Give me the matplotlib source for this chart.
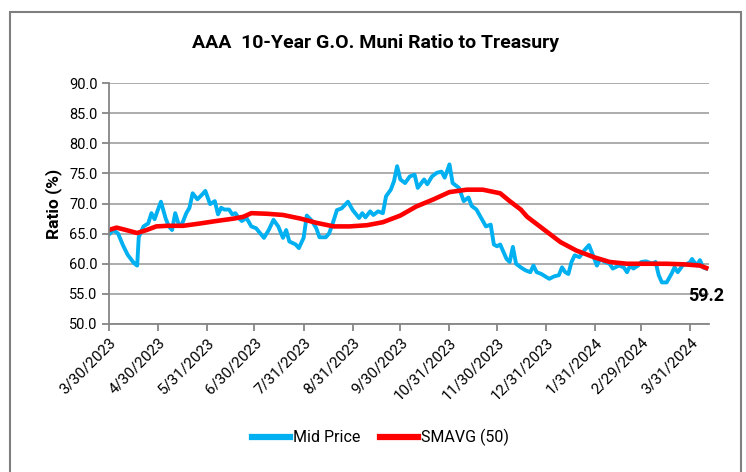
# -*- coding: utf-8 -*-
"""AAA 10-Year G.O. Muni Ratio to Treasury."""

import pandas as pd
import matplotlib.pyplot as plt
from matplotlib.patches import Rectangle

plt.rcParams['font.family'] = ['Roboto', 'DejaVu Sans']

start = pd.Timestamp('2023-03-30')

# Mid Price (days since 3/30/2023, ratio %)
mid_days = [0, 3, 6, 9, 12, 16, 18, 19, 22, 25, 27, 29, 31, 33, 36, 38, 40, 42, 44, 46,
            49, 51, 53, 56, 59, 61, 64, 67, 69, 71, 73, 76, 78, 80, 82, 84, 87, 90, 93, 98,
            101, 104, 107, 110, 112, 114, 118, 120, 123, 125, 128, 131, 133, 137, 139, 141,
            144, 147, 151, 154, 158, 160, 162, 165, 167, 170, 173, 175, 178, 180, 182, 184,
            187, 190, 193, 195, 199, 201, 204, 207, 210, 212, 215, 217, 221, 224, 227, 229,
            232, 235, 238, 241, 243, 245, 247, 249, 251, 253, 255, 257, 260, 263, 266, 268,
            270, 273, 276, 278, 281, 284, 286, 288, 290, 292, 294, 297, 300, 303, 306, 308,
            310, 313, 316, 318, 322, 325, 327, 329, 331, 334, 336, 339, 343, 345, 347, 349,
            352, 355, 357, 359, 362, 365, 367, 368, 371, 373, 375, 377]
mid_price = [64.8, 65.6, 65.0, 63.1, 61.5, 60.1, 59.7, 64.4, 66.2, 66.7, 68.4, 67.4, 68.9,
             70.3, 67.5, 66.2, 65.6, 68.4, 66.7, 66.4, 68.4, 69.3, 71.7, 70.7, 71.5, 72.1,
             69.9, 70.4, 68.2, 69.3, 69.0, 69.0, 68.2, 68.4, 67.6, 67.1, 67.6, 66.2, 65.9,
             64.3, 65.6, 67.3, 66.2, 64.3, 65.6, 63.7, 63.2, 62.6, 64.3, 68.0, 67.2, 65.9,
             64.4, 64.4, 65.0, 66.4, 68.9, 69.2, 70.3, 68.9, 67.6, 68.4, 67.7, 68.7, 68.1,
             68.7, 68.4, 71.2, 72.3, 73.7, 76.2, 74.0, 73.4, 74.5, 74.8, 72.6, 74.0, 73.2,
             74.5, 75.1, 75.3, 74.3, 76.5, 73.4, 72.6, 70.4, 71.0, 69.6, 69.0, 67.6, 66.2,
             66.5, 63.2, 62.9, 63.2, 62.0, 60.8, 60.3, 62.8, 60.0, 59.4, 58.9, 58.6, 59.7,
             58.6, 58.3, 57.8, 57.5, 57.9, 58.1, 59.4, 58.6, 58.3, 60.3, 61.4, 61.1, 62.2,
             63.1, 61.1, 59.7, 60.8, 60.3, 60.0, 59.2, 59.7, 59.4, 58.6, 59.7, 59.2, 59.7,
             60.3, 60.4, 60.0, 60.3, 58.1, 56.9, 56.9, 58.3, 59.4, 58.6, 59.7, 60.0, 60.3,
             60.8, 59.7, 60.6, 59.4, 59.2]

# SMAVG (50)
sma_days = [0, 5, 11, 18, 24, 30, 37, 47, 58, 68, 79, 85, 90, 100, 110, 121, 131, 142, 152,
            163, 173, 184, 194, 205, 215, 226, 236, 247, 253, 260, 264, 274, 285, 295, 306,
            316, 327, 342, 352, 363, 373, 377]
sma = [65.6, 66.0, 65.6, 65.1, 65.6, 66.2, 66.3, 66.3, 66.7, 67.1, 67.5, 67.8, 68.4, 68.3,
       68.1, 67.5, 66.8, 66.2, 66.2, 66.4, 66.9, 68.0, 69.5, 70.7, 71.9, 72.3, 72.3, 71.7,
       70.4, 69.0, 67.8, 65.8, 63.6, 62.2, 61.1, 60.3, 60.0, 60.0, 60.0, 59.9, 59.7, 59.3]

tick_dates = ['2023-03-30', '2023-04-30', '2023-05-31', '2023-06-30', '2023-07-31',
              '2023-08-31', '2023-09-30', '2023-10-31', '2023-11-30', '2023-12-31',
              '2024-01-31', '2024-02-29', '2024-03-31']
tick_labels = ['3/30/2023', '4/30/2023', '5/31/2023', '6/30/2023', '7/31/2023',
               '8/31/2023', '9/30/2023', '10/31/2023', '11/30/2023', '12/31/2023',
               '1/31/2024', '2/29/2024', '3/31/2024']

mid_x = start + pd.to_timedelta(mid_days, unit='D')
sma_x = start + pd.to_timedelta(sma_days, unit='D')

fig = plt.figure(figsize=(7.46, 4.72), dpi=100)
ax = fig.add_axes([0.1456, 0.3136, 0.8054, 0.5104])

ax.plot(mid_x, mid_price, color='#00B0F0', lw=2.8, label='Mid Price',
        solid_joinstyle='round')
ax.plot(sma_x, sma, color='#FF0000', lw=3.3, label='SMAVG (50)',
        solid_joinstyle='round')

ax.set_ylim(50, 90)
ax.set_yticks(range(50, 91, 5))
ax.set_yticklabels([f'{v:.1f}' for v in range(50, 91, 5)], fontsize=10.5)
ax.set_xlim(start, start + pd.Timedelta(days=379))
ax.set_xticks(pd.to_datetime(tick_dates))
ax.set_xticklabels(tick_labels, rotation=45, ha='right', rotation_mode='anchor',
                   fontsize=11)

ax.grid(axis='y', color='#A6A6A6', lw=1.3)
ax.set_axisbelow(True)
for s in ['top', 'right']:
    ax.spines[s].set_visible(False)
for s in ['left', 'bottom']:
    ax.spines[s].set_color('#868686')
    ax.spines[s].set_linewidth(1.3)
ax.tick_params(axis='both', color='#868686', width=1.3, length=5, direction='out',
               pad=3)

ax.set_ylabel('Ratio (%)', fontsize=12.5, fontweight='bold', labelpad=5)
fig.text(0.503, 0.908, 'AAA  10-Year G.O. Muni Ratio to Treasury', ha='center',
         va='center', fontsize=14, fontweight='bold')

ax.text(mid_x[-1], 54.6, f'{mid_price[-1]:.1f}', ha='center', va='center',
        fontsize=13, fontweight='bold', clip_on=False)

leg = fig.legend(loc='center', bbox_to_anchor=(0.51, 0.073), ncol=2, frameon=False,
                 fontsize=11.5, handlelength=2.4, columnspacing=1.2, handletextpad=0.2)
for line in leg.get_lines():
    line.set_linewidth(4.5)

fig.patches.append(Rectangle((10 / 746, -0.05), 731 / 746, 1.05 - 12 / 472,
                             transform=fig.transFigure, fill=False,
                             edgecolor='#7F7F7F', lw=1.5))

fig.savefig('out.png', dpi=100)
